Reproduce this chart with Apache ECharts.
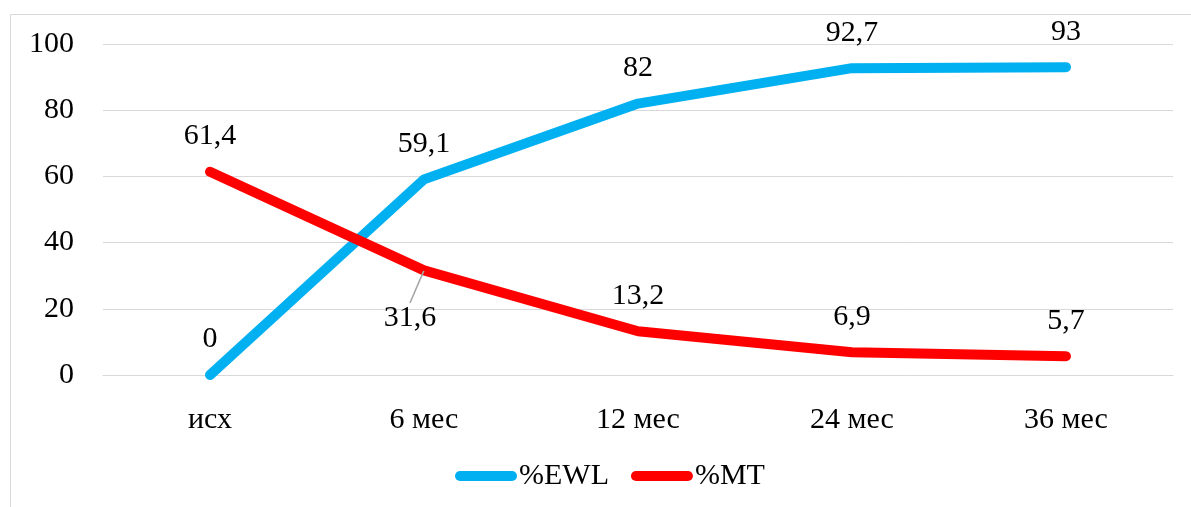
<!DOCTYPE html>
<html>
<head>
<meta charset="utf-8">
<script src="https://cdn.jsdelivr.net/npm/echarts@6/dist/echarts.min.js"></script>
<style>
  html, body { margin: 0; padding: 0; background: #fff; }
  #chart { width: 1191px; height: 507px; }
</style>
</head>
<body>
<div id="chart"></div>
<script>
// Time points and the two measured percentages
const categories = ['исх', '6 мес', '12 мес', '24 мес', '36 мес'];
const ewl = [0, 59.1, 82, 92.7, 93];
const mt = [61.4, 31.6, 13.2, 6.9, 5.7];
const yTicks = { min: 0, max: 100, interval: 20 };

const FONT = "'Liberation Serif', 'Times New Roman', serif";
const FS = 30;
const pill = 'path://M5,0 L57,0 A5,5 0 0 1 57,10 L5,10 A5,5 0 0 1 5,0 Z';

const fmt = p => String(p.value).replace('.', ',');

// The %MT label at "6 мес" sits under the line, tied to its point by a thin leader
const BELOW_IDX = 1;
const BELOW_SHIFT = -14;

function lineSeries(name, data, color, belowIdx) {
  const s = {
    name: name,
    type: 'line',
    data: data.map((v, i) => i === belowIdx ? {
      value: v,
      label: { position: 'bottom', distance: 32 },
      labelLine: { show: true, lineStyle: { color: '#A6A6A6', width: 1.5 } }
    } : v),
    symbol: 'circle',
    symbolSize: 1,
    itemStyle: { color: color },
    lineStyle: { color: color, width: 10, cap: 'round', join: 'round' },
    label: {
      show: true, position: 'top', distance: 20, formatter: fmt,
      fontFamily: FONT, fontSize: FS, color: '#000'
    },
    emphasis: { disabled: true },
    animation: false
  };
  if (belowIdx >= 0) {
    s.labelLayout = function (p) {
      if (p.dataIndex !== belowIdx) return {};
      const lr = p.labelRect, r = p.rect;
      const x0 = lr.x + lr.width / 2 + BELOW_SHIFT, y0 = lr.y + 2;
      const x1 = r.x + r.width / 2 - 1, y1 = r.y + r.height / 2 + 2;
      return {
        dx: BELOW_SHIFT,
        labelLinePoints: [[x0, y0], [(x0 + x1) / 2, (y0 + y1) / 2], [x1, y1]]
      };
    };
  }
  return s;
}

const chart = echarts.init(document.getElementById('chart'), null, { renderer: 'canvas' });
chart.setOption({
  backgroundColor: '#fff',
  graphic: [{
    type: 'rect', silent: true, z: -10,
    shape: { x: 10.5, y: 14.5, width: 1200, height: 520 },
    style: { fill: 'none', stroke: '#D9D9D9', lineWidth: 1 }
  }],
  grid: { left: 103, right: 18, top: 44, bottom: 132, containLabel: false },
  legend: {
    bottom: 11, left: 450,
    itemWidth: 62, itemHeight: 10, itemGap: 22,
    textStyle: { fontFamily: FONT, fontSize: FS, color: '#000', padding: [0, 0, 0, -3] },
    data: [{ name: '%EWL', icon: pill }, { name: '%MT', icon: pill }]
  },
  xAxis: {
    type: 'category', data: categories, boundaryGap: true,
    axisLine: { lineStyle: { color: '#D9D9D9', width: 1 } },
    axisTick: { show: false },
    axisLabel: { fontFamily: FONT, fontSize: FS, color: '#000', margin: 30 }
  },
  yAxis: {
    type: 'value', min: yTicks.min, max: yTicks.max, interval: yTicks.interval,
    axisLine: { show: false }, axisTick: { show: false },
    splitLine: { lineStyle: { color: '#D9D9D9', width: 1 } },
    axisLabel: { fontFamily: FONT, fontSize: FS, color: '#000', margin: 29 }
  },
  series: [
    lineSeries('%EWL', ewl, '#00B0F0', -1),
    lineSeries('%MT', mt, '#FF0000', BELOW_IDX)
  ]
});
</script>
</body>
</html>
